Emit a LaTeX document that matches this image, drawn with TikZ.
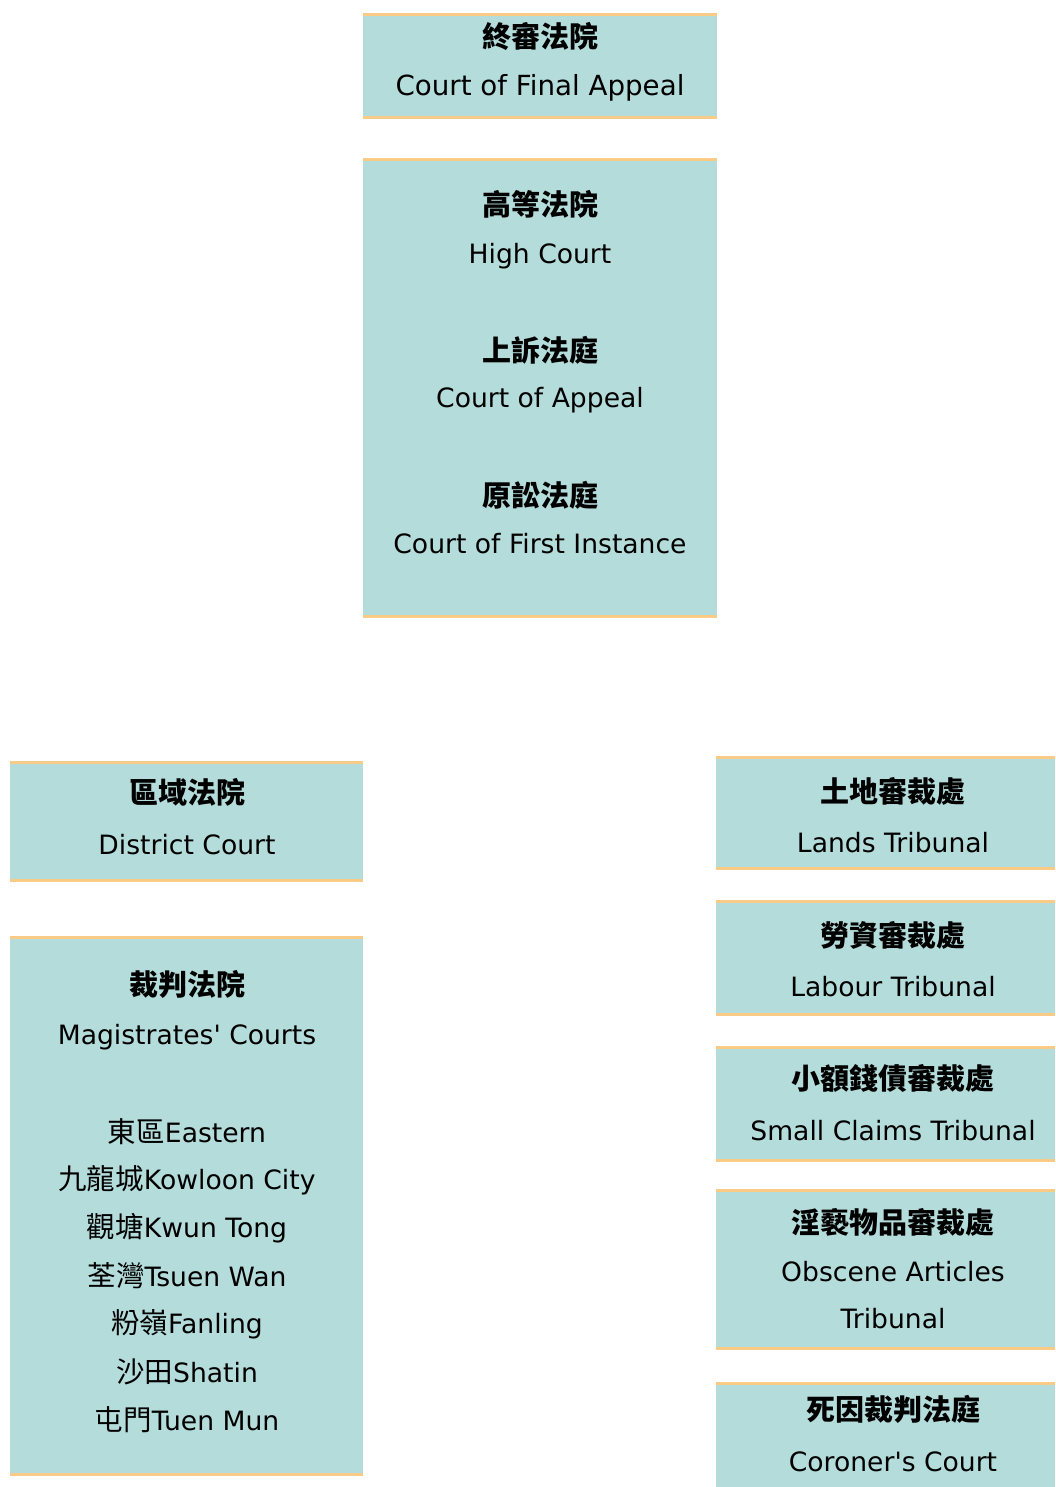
\documentclass[tikz,border=0pt]{standalone}
\usepackage{fontspec}
\setmainfont{Noto Sans CJK TC}
\newfontfamily\enfont{DejaVu Sans}
\newfontfamily\cjkfont{Noto Sans CJK TC}
\usepackage{tikz}
\usetikzlibrary{positioning}

\definecolor{boxfill}{HTML}{B4DCDB}
\definecolor{boxrule}{HTML}{F9CB87}

\tikzset{
	courtfill/.style={fill=boxfill},
	courtrule/.style={draw=boxrule,line width=3pt},
	zh/.style={inner sep=0pt,font=\fontsize{29}{33}\selectfont\cjkfont\bfseries},
	en/.style={inner sep=0pt,font=\fontsize{26.6}{31}\selectfont\enfont},
}
\newcommand{\zhpart}[1]{{\fontsize{28.5}{32}\selectfont\cjkfont #1}}

\begin{document}
\begin{tikzpicture}[x=1pt,y=-1pt]
	\useasboundingbox (0,0) rectangle (1055,1487);
	
	% boxes
	\fill[courtfill] (363,13) rectangle (717,119);
	\fill[courtfill] (363,158) rectangle (717,618);
	\fill[courtfill] (10,761) rectangle (363,882);
	\fill[courtfill] (10,936) rectangle (363,1476);
	\fill[courtfill] (716,756) rectangle (1055,870);
	\fill[courtfill] (716,900) rectangle (1055,1016);
	\fill[courtfill] (716,1046) rectangle (1055,1162);
	\fill[courtfill] (716,1189) rectangle (1055,1350);
	\fill[courtfill] (716,1382) rectangle (1055,1487);
	
	% top and bottom rules
	\draw[courtrule] (363,14.5) -- (717,14.5) (363,117.5) -- (717,117.5);
	\draw[courtrule] (363,159.5) -- (717,159.5) (363,616.5) -- (717,616.5);
	\draw[courtrule] (10,762.5) -- (363,762.5) (10,880.5) -- (363,880.5);
	\draw[courtrule] (10,937.5) -- (363,937.5) (10,1474.5) -- (363,1474.5);
	\draw[courtrule] (716,757.5) -- (1055,757.5) (716,868.5) -- (1055,868.5);
	\draw[courtrule] (716,901.5) -- (1055,901.5) (716,1014.5) -- (1055,1014.5);
	\draw[courtrule] (716,1047.5) -- (1055,1047.5) (716,1160.5) -- (1055,1160.5);
	\draw[courtrule] (716,1190.5) -- (1055,1190.5) (716,1348.5) -- (1055,1348.5);
	\draw[courtrule] (716,1383.5) -- (1055,1383.5);
	
	% court of final appeal
	\node[zh] (cfa) at (540,36) {終審法院};
	\node[en,font=\fontsize{27.7}{32}\selectfont\enfont] (cfaEn) at (540,88) {Court of Final Appeal};
	
	% high court
	\node[zh] (hc) at (540,204) {高等法院};
	\node[en] (hcEn) at (540,256) {High Court};
	\node[zh] (ca) at (540,350) {上訴法庭};
	\node[en] (caEn) at (540,400) {Court of Appeal};
	\node[zh] (cfi) at (540,495) {原訟法庭};
	\node[en] (cfiEn) at (540,544) {Court of First Instance};
	
	% district court
	\node[zh] (dc) at (187,792) {區域法院};
	\node[en] (dcEn) at (187,845) {District Court};
	
	% magistrates
	\node[zh] (mag) at (187,984) {裁判法院};
	\node[en] (magEn) at (187,1037) {Magistrates' Courts};
	\node[en] (eastern) at (187,1132) {\zhpart{東區}Eastern};
	\node[en] (kowloon) at (187,1180) {\zhpart{九龍城}Kowloon City};
	\node[en] (kwuntong) at (187,1228) {\zhpart{觀塘}Kwun Tong};
	\node[en] (tsuenwan) at (187,1276) {\zhpart{荃灣}Tsuen Wan};
	\node[en] (fanling) at (187,1324) {\zhpart{粉嶺}Fanling};
	\node[en] (shatin) at (187,1372) {\zhpart{沙田}Shatin};
	\node[en] (tuenmun) at (187,1420) {\zhpart{屯門}Tuen Mun};
	
	% tribunals
	\node[zh] (lands) at (893,791) {土地審裁處};
	\node[en] (landsEn) at (893,843) {Lands Tribunal};
	\node[zh] (labour) at (893,935) {勞資審裁處};
	\node[en] (labourEn) at (893,987) {Labour Tribunal};
	\node[zh] (claims) at (893,1078) {小額錢債審裁處};
	\node[en] (claimsEn) at (893,1131) {Small Claims Tribunal};
	\node[zh] (obscene) at (893,1222) {淫褻物品審裁處};
	\node[en] (obsceneEn) at (893,1272) {Obscene Articles};
	\node[en] (obsceneEn2) at (893,1319) {Tribunal};
	\node[zh] (coroner) at (893,1409) {死因裁判法庭};
	\node[en] (coronerEn) at (893,1462) {Coroner's Court};
\end{tikzpicture}
\end{document}
